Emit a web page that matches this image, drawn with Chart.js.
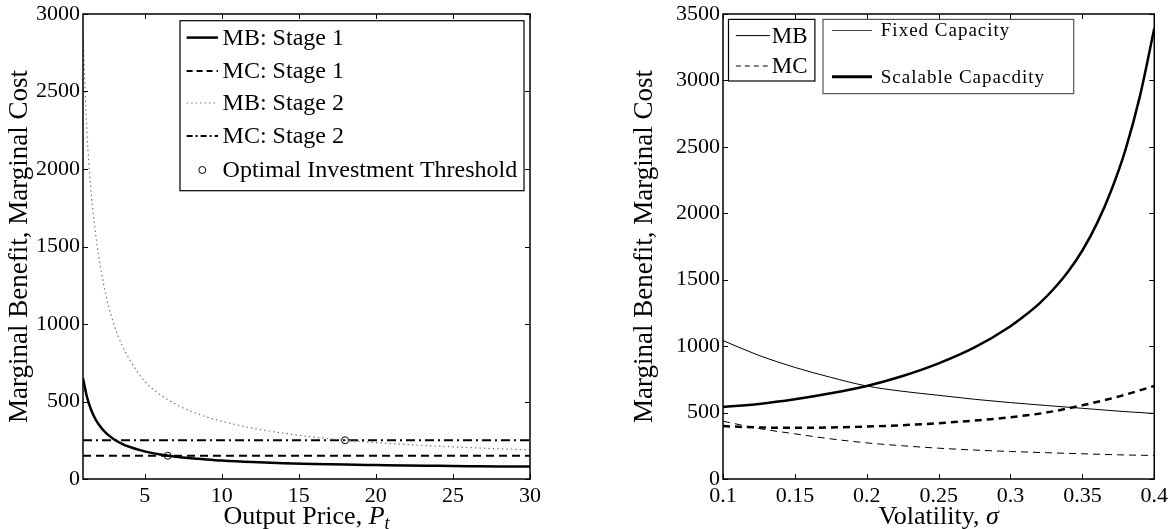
<!DOCTYPE html>
<html>
<head>
<meta charset="utf-8">
<script src="https://cdn.jsdelivr.net/npm/chart.js@4.4.1/dist/chart.umd.min.js"></script>
<style>
  html, body { margin: 0; padding: 0; background: #fff; }
  #wrap { position: relative; width: 1174px; height: 529px; overflow: hidden; }
  #priceChart { position: absolute; left: 0; top: 0; }
  #volChart { position: absolute; left: 600px; top: 0; }
</style>
</head>
<body>
<div id="wrap">
  <canvas id="priceChart" width="580" height="529"></canvas>
  <canvas id="volChart" width="574" height="529"></canvas>
</div>
<script>
// ---- left panel: output price ----
const priceGrid = [1, 1.25, 1.5, 1.75, 2, 2.5, 3, 3.5, 4, 5, 6, 7, 8, 9, 10, 12, 14, 16, 18, 20, 22, 24, 26, 28, 30];
const mbStage1 = [650, 532, 453, 397, 355, 296, 257, 229, 208, 178, 158, 144, 134, 126, 119, 109, 102, 97, 93, 90, 87, 85, 83, 81, 80];
const mbStage2 = [2850, 2250, 1880, 1640, 1450, 1180, 1000, 870, 775, 630, 545, 483, 437, 401, 373, 328, 295, 270, 250, 235, 223, 212, 203, 195, 188];
const mcPriceEnds = [1, 30];
const mcStage1 = [150, 150];
const mcStage2 = [250, 250];
const thresholdPrice = [6.5, 18];
const thresholdValue = [150, 250];
const priceTicks = [5, 10, 15, 20, 25, 30];
const leftValueTicks = [0, 500, 1000, 1500, 2000, 2500, 3000];

// ---- right panel: volatility ----
const sigmaGrid = [0.1, 0.125, 0.15, 0.175, 0.2, 0.225, 0.25, 0.275, 0.3, 0.325, 0.35, 0.375, 0.4];
const mbFixed = [1042, 930, 840, 765, 700, 660, 630, 600, 575, 553, 532, 511, 493];
const mcFixed = [435, 380, 340, 302, 272, 250, 232, 218, 207, 198, 190, 182, 177];
const mcScalable = [398, 388, 385, 388, 395, 405, 420, 440, 465, 500, 555, 620, 700];
const sigmaFine = [0.1, 0.125, 0.15, 0.175, 0.2, 0.225, 0.25, 0.275, 0.3, 0.31, 0.32, 0.33, 0.34, 0.35, 0.36, 0.37, 0.38, 0.39, 0.4];
const mbScalable = [542, 565, 600, 645, 700, 775, 870, 990, 1150, 1230, 1320, 1430, 1560, 1720, 1920, 2170, 2480, 2880, 3390];
const sigmaTicks = [0.1, 0.15, 0.2, 0.25, 0.3, 0.35, 0.4];
const rightValueTicks = [0, 500, 1000, 1500, 2000, 2500, 3000, 3500];

const SERIF = '"Liberation Serif", "Times New Roman", serif';
Chart.defaults.font.family = SERIF;
Chart.defaults.color = '#000';

function pairs(xs, ys) {
    return xs.map((x, i) => ({ x: x, y: ys[i] }));
}

function fixedTicks(values) {
    return function (scale) {
        scale.ticks = values.map(v => ({ value: v }));
    };
}

// box with inward tick marks on all four sides (matlab style)
const framePlugin = {
    id: 'frame',
    afterDatasetsDraw(chart) {
        const { ctx, chartArea: a, scales } = chart;
        const len = 5;
        ctx.save();
        ctx.strokeStyle = '#000';
        ctx.lineWidth = 1;
        ctx.beginPath();
        scales.x.ticks.forEach(t => {
            const px = Math.round(scales.x.getPixelForValue(t.value)) + 0.5;
            ctx.moveTo(px, a.bottom); ctx.lineTo(px, a.bottom - len);
            ctx.moveTo(px, a.top); ctx.lineTo(px, a.top + len);
        });
        scales.y.ticks.forEach(t => {
            const py = Math.round(scales.y.getPixelForValue(t.value)) + 0.5;
            ctx.moveTo(a.left, py); ctx.lineTo(a.left + len, py);
            ctx.moveTo(a.right, py); ctx.lineTo(a.right - len, py);
        });
        ctx.stroke();
        ctx.lineWidth = 1.5;
        ctx.strokeRect(a.left, a.top, a.right - a.left, a.bottom - a.top);
        ctx.restore();
    }
};

// legend boxes drawn inside the plot area
const boxLegendPlugin = {
    id: 'boxLegend',
    afterDraw(chart, args, opts) {
        const { ctx, chartArea: a } = chart;
        (opts.boxes || []).forEach(b => {
            ctx.save();
            ctx.fillStyle = '#fff';
            ctx.fillRect(a.left + b.dx, a.top + b.dy, b.w, b.h);
            ctx.strokeStyle = b.border || '#000';
            ctx.lineWidth = 1.2;
            ctx.strokeRect(a.left + b.dx, a.top + b.dy, b.w, b.h);
            b.items.forEach(it => {
                const y = a.top + it.dy;
                if (it.marker) {
                    ctx.beginPath();
                    ctx.lineWidth = 1;
                    ctx.strokeStyle = '#000';
                    ctx.arc(a.left + (b.x0 + b.x1) / 2, y, 3.5, 0, Math.PI * 2);
                    ctx.stroke();
                } else {
                    ctx.beginPath();
                    ctx.setLineDash(it.dash || []);
                    ctx.lineWidth = it.width;
                    ctx.strokeStyle = it.color || '#000';
                    ctx.moveTo(a.left + b.x0, y);
                    ctx.lineTo(a.left + b.x1, y);
                    ctx.stroke();
                    ctx.setLineDash([]);
                }
                ctx.fillStyle = '#000';
                ctx.font = b.font;
                if (b.spacing) ctx.letterSpacing = b.spacing;
                ctx.textBaseline = 'middle';
                ctx.textAlign = 'left';
                ctx.fillText(it.label, a.left + b.tx, y + 1);
            });
            ctx.restore();
        });
    }
};

// x axis title with italic symbol and subscript
const richTitlePlugin = {
    id: 'richTitle',
    afterDraw(chart, args, opts) {
        if (!opts.parts) return;
        const { ctx, chartArea: a } = chart;
        ctx.save();
        ctx.fillStyle = '#000';
        ctx.textBaseline = 'alphabetic';
        const fontOf = p => (p.italic ? 'italic ' : '') + (p.sub ? '18px ' : '26px ') + SERIF;
        let total = 0;
        opts.parts.forEach(p => { ctx.font = fontOf(p); total += ctx.measureText(p.text).width; });
        let x = (a.left + a.right) / 2 - total / 2;
        opts.parts.forEach(p => {
            ctx.font = fontOf(p);
            ctx.fillText(p.text, x, opts.baseline + (p.sub ? 5 : 0));
            x += ctx.measureText(p.text).width;
        });
        ctx.restore();
    }
};

function axisY(ticks, max, titlePad, width) {
    return {
        type: 'linear',
        min: 0,
        max: max,
        afterBuildTicks: fixedTicks(ticks),
        afterFit: s => { s.width = width; },
        grid: { display: false, drawTicks: false },
        border: { display: false },
        ticks: { padding: 3, font: { size: 22, lineHeight: 1 }, color: '#000', callback: v => String(v) },
        title: {
            display: true,
            text: 'Marginal Benefit, Marginal Cost',
            font: { size: 27 },
            color: '#000',
            padding: { top: titlePad, bottom: 0 }
        }
    };
}

function axisX(ticks, min, max, fmt) {
    return {
        type: 'linear',
        min: min,
        max: max,
        afterBuildTicks: fixedTicks(ticks),
        afterFit: s => { s.height = 50; },
        grid: { display: false, drawTicks: false },
        border: { display: false },
        ticks: { padding: 6, maxRotation: 0, font: { size: 22, lineHeight: 1 }, color: '#000', callback: fmt }
    };
}

const lineBase = { pointRadius: 0, fill: false, cubicInterpolationMode: 'monotone', showLine: true };

new Chart(document.getElementById('priceChart'), {
    type: 'scatter',
    data: {
        datasets: [
            Object.assign({ label: 'MB: Stage 1', data: pairs(priceGrid, mbStage1), borderColor: '#000', borderWidth: 2.5 }, lineBase),
            Object.assign({ label: 'MC: Stage 1', data: pairs(mcPriceEnds, mcStage1), borderColor: '#000', borderWidth: 2, borderDash: [8, 5] }, lineBase),
            Object.assign({ label: 'MB: Stage 2', data: pairs(priceGrid, mbStage2), borderColor: '#777', borderWidth: 1.2, borderDash: [1.5, 3] }, lineBase),
            Object.assign({ label: 'MC: Stage 2', data: pairs(mcPriceEnds, mcStage2), borderColor: '#000', borderWidth: 2, borderDash: [9, 4, 2, 4] }, lineBase),
            {
                label: 'Optimal Investment Threshold',
                data: pairs(thresholdPrice, thresholdValue),
                showLine: false,
                pointRadius: 3.5,
                pointBorderWidth: 1,
                borderColor: '#000',
                backgroundColor: 'rgba(0,0,0,0)'
            }
        ]
    },
    options: {
        responsive: false,
        animation: false,
        layout: { padding: { top: 12, right: 50, left: 0, bottom: 0 } },
        scales: {
            x: axisX(priceTicks, 1, 30, v => String(v)),
            y: axisY(leftValueTicks, 3000, 4, 83)
        },
        plugins: {
            legend: { display: false },
            tooltip: { enabled: false },
            richTitle: {
                baseline: 524,
                parts: [{ text: 'Output Price, ' }, { text: 'P', italic: true }, { text: 't', italic: true, sub: true }]
            },
            boxLegend: {
                boxes: [{
                    dx: 97, dy: 6.7, w: 344, h: 170,
                    x0: 103.6, x1: 135, tx: 139.6,
                    font: '24px ' + SERIF,
                    items: [
                        { label: 'MB: Stage 1', dy: 23.6, width: 2.5 },
                        { label: 'MC: Stage 1', dy: 57, width: 2, dash: [6, 4] },
                        { label: 'MB: Stage 2', dy: 89, width: 1.2, dash: [1.5, 3], color: '#777' },
                        { label: 'MC: Stage 2', dy: 122, width: 2, dash: [6, 3, 2, 3] },
                        { label: 'Optimal Investment Threshold', dy: 156, marker: true }
                    ]
                }]
            }
        }
    },
    plugins: [framePlugin, boxLegendPlugin, richTitlePlugin]
});

new Chart(document.getElementById('volChart'), {
    type: 'scatter',
    data: {
        datasets: [
            Object.assign({ label: 'MB: Fixed Capacity', data: pairs(sigmaGrid, mbFixed), borderColor: '#000', borderWidth: 1 }, lineBase),
            Object.assign({ label: 'MC: Fixed Capacity', data: pairs(sigmaGrid, mcFixed), borderColor: '#000', borderWidth: 1, borderDash: [7, 5] }, lineBase),
            Object.assign({ label: 'MB: Scalable Capacdity', data: pairs(sigmaFine, mbScalable), borderColor: '#000', borderWidth: 2.5 }, lineBase),
            Object.assign({ label: 'MC: Scalable Capacdity', data: pairs(sigmaGrid, mcScalable), borderColor: '#000', borderWidth: 2.5, borderDash: [7, 5] }, lineBase)
        ]
    },
    options: {
        responsive: false,
        animation: false,
        layout: { padding: { top: 12, right: 18, left: 0, bottom: 0 } },
        scales: {
            x: axisX(sigmaTicks, 0.1, 0.4, v => String(Number(v.toFixed(2)))),
            y: axisY(rightValueTicks, 3500, 29, 123)
        },
        plugins: {
            legend: { display: false },
            tooltip: { enabled: false },
            richTitle: {
                baseline: 524,
                parts: [{ text: 'Volatility, ' }, { text: 'σ', italic: true }]
            },
            boxLegend: {
                boxes: [
                    {
                        dx: 5.5, dy: 5.4, w: 86.4, h: 61.6,
                        x0: 12.8, x1: 46.9, tx: 48.7,
                        font: '23px ' + SERIF,
                        items: [
                            { label: 'MB', dy: 21.6, width: 1 },
                            { label: 'MC', dy: 52, width: 1, dash: [5, 4] }
                        ]
                    },
                    {
                        dx: 100, dy: 5.4, w: 250.7, h: 74.2, border: '#555',
                        x0: 109, x1: 149, tx: 157.8,
                        font: '19px ' + SERIF, spacing: '1px',
                        items: [
                            { label: 'Fixed Capacity', dy: 16.5, width: 1, color: '#444' },
                            { label: 'Scalable Capacdity', dy: 62.8, width: 3 }
                        ]
                    }
                ]
            }
        }
    },
    plugins: [framePlugin, boxLegendPlugin, richTitlePlugin]
});
</script>
</body>
</html>
